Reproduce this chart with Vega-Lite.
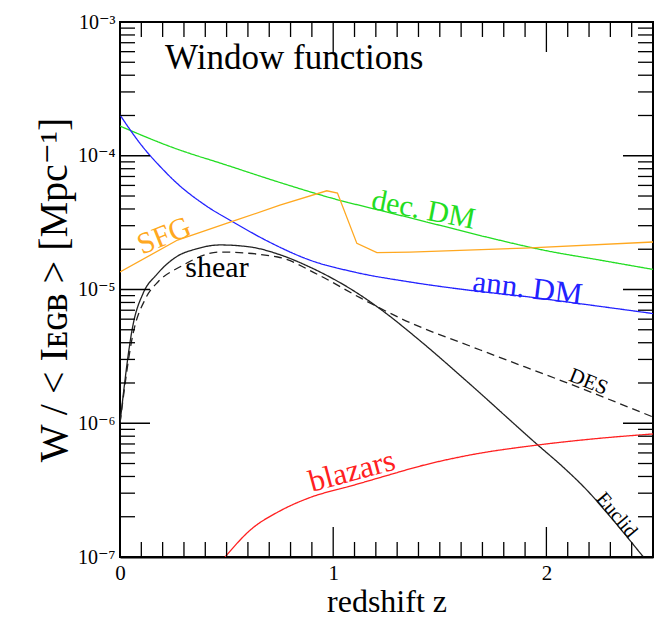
{
  "$schema": "https://vega.github.io/schema/vega-lite/v6.json",
  "width": 533,
  "height": 535,
  "autosize": {"type": "none"},
  "padding": {"left": 120, "top": 22, "right": 5, "bottom": 60},
  "background": "white",
  "config": {
    "view": {"stroke": "#000", "strokeWidth": 2},
    "font": "Liberation Serif",
    "axis": {
      "grid": false,
      "domain": false,
      "ticks": false,
      "labelColor": "#000",
      "titleColor": "#000",
      "labelFont": "Liberation Serif, DejaVu Serif, serif",
      "titleFont": "Liberation Serif, DejaVu Serif, serif",
      "titleFontWeight": "normal",
      "labelOverlap": false,
      "labelFlush": false
    },
    "text": {"font": "Liberation Serif, DejaVu Serif, serif"}
  },
  "datasets": {
    "curves": [
      {"series": "dec. DM", "z": 0, "w": 1.667e-4},
      {"series": "dec. DM", "z": 0.25, "w": 1.148e-4},
      {"series": "dec. DM", "z": 0.5, "w": 8.51e-5},
      {"series": "dec. DM", "z": 0.75, "w": 6.31e-5},
      {"series": "dec. DM", "z": 1.0, "w": 4.786e-5},
      {"series": "dec. DM", "z": 1.25, "w": 3.802e-5},
      {"series": "dec. DM", "z": 1.5, "w": 3.02e-5},
      {"series": "dec. DM", "z": 1.75, "w": 2.399e-5},
      {"series": "dec. DM", "z": 2.0, "w": 1.95e-5},
      {"series": "dec. DM", "z": 2.25, "w": 1.66e-5},
      {"series": "dec. DM", "z": 2.5, "w": 1.413e-5},

      {"series": "ann. DM", "z": 0, "w": 2.018e-4},
      {"series": "ann. DM", "z": 0.1, "w": 1.202e-4},
      {"series": "ann. DM", "z": 0.2, "w": 7.943e-5},
      {"series": "ann. DM", "z": 0.266, "w": 6.252e-5},
      {"series": "ann. DM", "z": 0.4, "w": 4.266e-5},
      {"series": "ann. DM", "z": 0.53, "w": 3.199e-5},
      {"series": "ann. DM", "z": 0.7, "w": 2.265e-5},
      {"series": "ann. DM", "z": 0.89, "w": 1.66e-5},
      {"series": "ann. DM", "z": 1.1, "w": 1.349e-5},
      {"series": "ann. DM", "z": 1.36, "w": 1.138e-5},
      {"series": "ann. DM", "z": 1.6, "w": 1.005e-5},
      {"series": "ann. DM", "z": 1.92, "w": 8.79e-6},
      {"series": "ann. DM", "z": 2.2, "w": 7.67e-6},
      {"series": "ann. DM", "z": 2.5, "w": 6.61e-6},

      {"series": "SFG", "z": 0, "w": 1.352e-5},
      {"series": "SFG", "z": 0.27, "w": 2.344e-5},
      {"series": "SFG", "z": 0.52, "w": 3.199e-5},
      {"series": "SFG", "z": 0.75, "w": 4.266e-5},
      {"series": "SFG", "z": 0.97, "w": 5.47e-5},
      {"series": "SFG", "z": 1.02, "w": 5.26e-5},
      {"series": "SFG", "z": 1.111, "w": 2.213e-5},
      {"series": "SFG", "z": 1.205, "w": 1.884e-5},
      {"series": "SFG", "z": 1.36, "w": 1.905e-5},
      {"series": "SFG", "z": 1.9, "w": 2.042e-5},
      {"series": "SFG", "z": 2.5, "w": 2.265e-5},

      {"series": "Euclid", "z": 0, "w": 1.0e-6},
      {"series": "Euclid", "z": 0.06, "w": 5.33e-6},
      {"series": "Euclid", "z": 0.11, "w": 9.48e-6},
      {"series": "Euclid", "z": 0.17, "w": 1.282e-5},
      {"series": "Euclid", "z": 0.27, "w": 1.778e-5},
      {"series": "Euclid", "z": 0.35, "w": 1.995e-5},
      {"series": "Euclid", "z": 0.47, "w": 2.153e-5},
      {"series": "Euclid", "z": 0.61, "w": 2.08e-5},
      {"series": "Euclid", "z": 0.75, "w": 1.82e-5},
      {"series": "Euclid", "z": 0.89, "w": 1.472e-5},
      {"series": "Euclid", "z": 1.13, "w": 9.02e-6},
      {"series": "Euclid", "z": 1.22, "w": 7.16e-6},
      {"series": "Euclid", "z": 1.42, "w": 3.98e-6},
      {"series": "Euclid", "z": 1.62, "w": 2.104e-6},
      {"series": "Euclid", "z": 1.96, "w": 6.87e-7},
      {"series": "Euclid", "z": 2.08, "w": 4.677e-7},
      {"series": "Euclid", "z": 2.19, "w": 3.162e-7},
      {"series": "Euclid", "z": 2.3, "w": 1.995e-7},
      {"series": "Euclid", "z": 2.455, "w": 1.0e-7},

      {"series": "DES", "z": 0, "w": 1.0e-6},
      {"series": "DES", "z": 0.06, "w": 4.57e-6},
      {"series": "DES", "z": 0.12, "w": 8.57e-6},
      {"series": "DES", "z": 0.18, "w": 1.148e-5},
      {"series": "DES", "z": 0.28, "w": 1.472e-5},
      {"series": "DES", "z": 0.47, "w": 1.905e-5},
      {"series": "DES", "z": 0.74, "w": 1.75e-5},
      {"series": "DES", "z": 0.93, "w": 1.288e-5},
      {"series": "DES", "z": 1.13, "w": 8.61e-6},
      {"series": "DES", "z": 1.315, "w": 6.1e-6},
      {"series": "DES", "z": 1.69, "w": 3.53e-6},
      {"series": "DES", "z": 2.1, "w": 1.995e-6},
      {"series": "DES", "z": 2.5, "w": 1.114e-6},

      {"series": "blazars", "z": 0.493, "w": 1.0e-7},
      {"series": "blazars", "z": 0.61, "w": 1.585e-7},
      {"series": "blazars", "z": 0.751, "w": 2.213e-7},
      {"series": "blazars", "z": 0.892, "w": 2.786e-7},
      {"series": "blazars", "z": 1.08, "w": 3.388e-7},
      {"series": "blazars", "z": 1.254, "w": 4.074e-7},
      {"series": "blazars", "z": 1.408, "w": 4.786e-7},
      {"series": "blazars", "z": 1.65, "w": 5.821e-7},
      {"series": "blazars", "z": 1.958, "w": 6.871e-7},
      {"series": "blazars", "z": 2.2, "w": 7.586e-7},
      {"series": "blazars", "z": 2.5, "w": 8.318e-7}
    ],
    "zticks": [
      {"v": 0, "kind": "major"}, {"v": 0.1, "kind": "minor"}, {"v": 0.2, "kind": "minor"}, {"v": 0.3, "kind": "minor"}, {"v": 0.4, "kind": "minor"},
      {"v": 0.5, "kind": "minor"}, {"v": 0.6, "kind": "minor"}, {"v": 0.7, "kind": "minor"}, {"v": 0.8, "kind": "minor"}, {"v": 0.9, "kind": "minor"},
      {"v": 1, "kind": "major"}, {"v": 1.1, "kind": "minor"}, {"v": 1.2, "kind": "minor"}, {"v": 1.3, "kind": "minor"}, {"v": 1.4, "kind": "minor"},
      {"v": 1.5, "kind": "minor"}, {"v": 1.6, "kind": "minor"}, {"v": 1.7, "kind": "minor"}, {"v": 1.8, "kind": "minor"}, {"v": 1.9, "kind": "minor"},
      {"v": 2, "kind": "major"}, {"v": 2.1, "kind": "minor"}, {"v": 2.2, "kind": "minor"}, {"v": 2.3, "kind": "minor"}, {"v": 2.4, "kind": "minor"}
    ],
    "wticks": [
      {"v": 1e-7, "kind": "major"}, {"v": 2e-7, "kind": "minor"}, {"v": 3e-7, "kind": "minor"}, {"v": 4e-7, "kind": "minor"}, {"v": 5e-7, "kind": "minor"},
      {"v": 6e-7, "kind": "minor"}, {"v": 7e-7, "kind": "minor"}, {"v": 8e-7, "kind": "minor"}, {"v": 9e-7, "kind": "minor"},
      {"v": 1e-6, "kind": "major"}, {"v": 2e-6, "kind": "minor"}, {"v": 3e-6, "kind": "minor"}, {"v": 4e-6, "kind": "minor"}, {"v": 5e-6, "kind": "minor"},
      {"v": 6e-6, "kind": "minor"}, {"v": 7e-6, "kind": "minor"}, {"v": 8e-6, "kind": "minor"}, {"v": 9e-6, "kind": "minor"},
      {"v": 1e-5, "kind": "major"}, {"v": 2e-5, "kind": "minor"}, {"v": 3e-5, "kind": "minor"}, {"v": 4e-5, "kind": "minor"}, {"v": 5e-5, "kind": "minor"},
      {"v": 6e-5, "kind": "minor"}, {"v": 7e-5, "kind": "minor"}, {"v": 8e-5, "kind": "minor"}, {"v": 9e-5, "kind": "minor"},
      {"v": 1e-4, "kind": "major"}, {"v": 2e-4, "kind": "minor"}, {"v": 3e-4, "kind": "minor"}, {"v": 4e-4, "kind": "minor"}, {"v": 5e-4, "kind": "minor"},
      {"v": 6e-4, "kind": "minor"}, {"v": 7e-4, "kind": "minor"}, {"v": 8e-4, "kind": "minor"}, {"v": 9e-4, "kind": "minor"},
      {"v": 1e-3, "kind": "major"}
    ]
  },
  "layer": [
    {
      "data": {"name": "curves"},
      "transform": [{"filter": "datum.series != 'SFG'"}],
      "mark": {"type": "line", "strokeWidth": 1.3, "interpolate": "monotone", "clip": true},
      "encoding": {
        "x": {
          "field": "z", "type": "quantitative",
          "scale": {"domain": [0, 2.5], "nice": false, "zero": false},
          "axis": {
            "orient": "bottom",
            "values": [0, 1, 2],
            "format": "d",
            "domain": true, "domainColor": "#000", "domainWidth": 2,
            "labelFontSize": 21,
            "labelPadding": 5,
            "title": "redshift z",
            "titleFontSize": 32,
            "titlePadding": 3
          }
        },
        "y": {
          "field": "w", "type": "quantitative",
          "scale": {"type": "log", "domain": [1e-7, 1e-3], "nice": false},
          "axis": {
            "orient": "left",
            "values": [1e-7, 1e-6, 1e-5, 1e-4, 1e-3],
            "labelExpr": "'10⁻' + ['⁰', '¹', '²', '³', '⁴', '⁵', '⁶', '⁷'][-round(log(datum.value) / LN10)]",
            "labelFontSize": 20,
            "labelPadding": 5,
            "title": "W / < Iᴇɢʙ > [Mpc⁻¹]",
            "titleFontSize": 40,
            "titlePadding": 3
          }
        },
        "color": {
          "field": "series", "type": "nominal",
          "scale": {"domain": ["dec. DM", "ann. DM", "SFG", "Euclid", "DES", "blazars"], "range": ["#22dd22", "#2222ff", "#ffa820", "#222222", "#222222", "#ff2020"]},
          "legend": null
        },
        "strokeDash": {
          "field": "series", "type": "nominal",
          "scale": {"domain": ["dec. DM", "ann. DM", "SFG", "Euclid", "DES", "blazars"], "range": [[1, 0], [1, 0], [1, 0], [1, 0], [8, 5], [1, 0]]},
          "legend": null
        }
      }
    },
    {
      "data": {"name": "curves"},
      "transform": [{"filter": "datum.series == 'SFG'"}],
      "mark": {"type": "line", "strokeWidth": 1.3, "interpolate": "linear", "clip": true, "color": "#ffa820"},
      "encoding": {
        "x": {"field": "z", "type": "quantitative"},
        "y": {"field": "w", "type": "quantitative"}
      }
    },
    {
      "data": {"name": "zticks"},
      "mark": {"type": "tick", "orient": "vertical", "clip": true, "color": "#000", "thickness": 1.3, "opacity": 1},
      "encoding": {
        "x": {"field": "v", "type": "quantitative"},
        "y": {"datum": 1e-7, "type": "quantitative"},
        "size": {"field": "kind", "type": "nominal", "scale": {"domain": ["major", "minor"], "range": [60, 30]}, "legend": null}
      }
    },
    {
      "data": {"name": "zticks"},
      "mark": {"type": "tick", "orient": "vertical", "clip": true, "color": "#000", "thickness": 1.3, "opacity": 1},
      "encoding": {
        "x": {"field": "v", "type": "quantitative"},
        "y": {"datum": 1e-3, "type": "quantitative"},
        "size": {"field": "kind", "type": "nominal", "scale": {"domain": ["major", "minor"], "range": [60, 30]}, "legend": null}
      }
    },
    {
      "data": {"name": "wticks"},
      "mark": {"type": "tick", "orient": "horizontal", "clip": true, "color": "#000", "thickness": 1.3, "opacity": 1},
      "encoding": {
        "y": {"field": "v", "type": "quantitative"},
        "x": {"datum": 0, "type": "quantitative"},
        "size": {"field": "kind", "type": "nominal", "scale": {"domain": ["major", "minor"], "range": [60, 30]}, "legend": null}
      }
    },
    {
      "data": {"name": "wticks"},
      "mark": {"type": "tick", "orient": "horizontal", "clip": true, "color": "#000", "thickness": 1.3, "opacity": 1},
      "encoding": {
        "y": {"field": "v", "type": "quantitative"},
        "x": {"datum": 2.5, "type": "quantitative"},
        "size": {"field": "kind", "type": "nominal", "scale": {"domain": ["major", "minor"], "range": [60, 30]}, "legend": null}
      }
    },
    {
      "data": {"values": [{"text": "Window functions", "z": 0.817, "w": 5.38e-4}]},
      "mark": {"type": "text", "fontSize": 35, "color": "#000"},
      "encoding": {"x": {"field": "z", "type": "quantitative"}, "y": {"field": "w", "type": "quantitative"}, "text": {"field": "text"}}
    },
    {
      "data": {"values": [{"text": "SFG", "z": 0.207, "w": 2.51e-5}]},
      "mark": {"type": "text", "fontSize": 30, "angle": -22, "color": "#ffa820"},
      "encoding": {"x": {"field": "z", "type": "quantitative"}, "y": {"field": "w", "type": "quantitative"}, "text": {"field": "text"}}
    },
    {
      "data": {"values": [{"text": "shear", "z": 0.455, "w": 1.45e-5}]},
      "mark": {"type": "text", "fontSize": 30, "color": "#000"},
      "encoding": {"x": {"field": "z", "type": "quantitative"}, "y": {"field": "w", "type": "quantitative"}, "text": {"field": "text"}}
    },
    {
      "data": {"values": [{"text": "dec. DM", "z": 1.423, "w": 3.93e-5}]},
      "mark": {"type": "text", "fontSize": 30, "angle": 11, "color": "#22dd22"},
      "encoding": {"x": {"field": "z", "type": "quantitative"}, "y": {"field": "w", "type": "quantitative"}, "text": {"field": "text"}}
    },
    {
      "data": {"values": [{"text": "ann. DM", "z": 1.911, "w": 1.01e-5}]},
      "mark": {"type": "text", "fontSize": 31, "angle": 7, "color": "#2222ff"},
      "encoding": {"x": {"field": "z", "type": "quantitative"}, "y": {"field": "w", "type": "quantitative"}, "text": {"field": "text"}}
    },
    {
      "data": {"values": [{"text": "DES", "z": 2.197, "w": 2.03e-6}]},
      "mark": {"type": "text", "fontSize": 21, "angle": 22, "color": "#000"},
      "encoding": {"x": {"field": "z", "type": "quantitative"}, "y": {"field": "w", "type": "quantitative"}, "text": {"field": "text"}}
    },
    {
      "data": {"values": [{"text": "Euclid", "z": 2.329, "w": 2.06e-7}]},
      "mark": {"type": "text", "fontSize": 20, "angle": 50, "color": "#000"},
      "encoding": {"x": {"field": "z", "type": "quantitative"}, "y": {"field": "w", "type": "quantitative"}, "text": {"field": "text"}}
    },
    {
      "data": {"values": [{"text": "blazars", "z": 1.089, "w": 4.33e-7}]},
      "mark": {"type": "text", "fontSize": 31, "angle": -15, "color": "#ff2020"},
      "encoding": {"x": {"field": "z", "type": "quantitative"}, "y": {"field": "w", "type": "quantitative"}, "text": {"field": "text"}}
    }
  ]
}
